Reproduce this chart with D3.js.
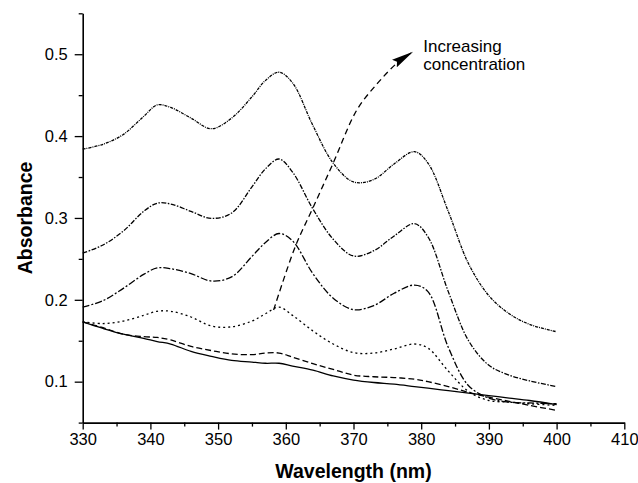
<!DOCTYPE html>
<html>
<head>
<meta charset="utf-8">
<script src="https://cdn.jsdelivr.net/npm/d3@7"></script>
<style>
  body { margin: 0; background: #fff; }
  text { font-family: "Liberation Sans", Arial, sans-serif; fill: #000; }
</style>
</head>
<body>
<svg width="638" height="483"></svg>
<script>
// wavelengths (nm) the spectra were read at
var wavelengths = [330, 333, 336, 339, 341, 343, 346, 349, 352, 355, 357, 359, 361,
                   364, 367, 370, 373, 376, 379, 381, 384, 387, 390, 393, 396, 400];

// absorbance, lowest to highest concentration
var absSolid   = [0.173, 0.165, 0.158, 0.153, 0.149, 0.146, 0.137, 0.131, 0.126, 0.124, 0.1225, 0.1225, 0.119,
                  0.114, 0.107, 0.102, 0.099, 0.097, 0.094, 0.092, 0.089, 0.086, 0.083, 0.080, 0.077, 0.072];
var absDash    = [0.173, 0.166, 0.158, 0.155, 0.154, 0.151, 0.143, 0.138, 0.134, 0.133, 0.135, 0.135, 0.130,
                  0.122, 0.115, 0.108, 0.106, 0.105, 0.103, 0.100, 0.094, 0.087, 0.081, 0.076, 0.071, 0.065];
var absDot     = [0.173, 0.171, 0.174, 0.181, 0.186, 0.186, 0.179, 0.168, 0.167, 0.174, 0.183, 0.191, 0.181,
                  0.162, 0.146, 0.1355, 0.135, 0.140, 0.146, 0.141, 0.113, 0.088, 0.077, 0.075, 0.073, 0.071];
var absDashDot = [0.191, 0.199, 0.214, 0.231, 0.239, 0.238, 0.232, 0.223, 0.228, 0.253, 0.270, 0.281, 0.272,
                  0.232, 0.202, 0.188, 0.193, 0.208, 0.218, 0.210, 0.142, 0.095, 0.080, 0.075, 0.074, 0.073];
var absDashDot2 = [0.257, 0.267, 0.284, 0.308, 0.318, 0.317, 0.308, 0.2995, 0.306, 0.338, 0.360, 0.372, 0.356,
                   0.311, 0.274, 0.2535, 0.260, 0.278, 0.293, 0.277, 0.210, 0.150, 0.120, 0.108, 0.101, 0.094];
var absShortDash = [0.384, 0.390, 0.402, 0.424, 0.438, 0.435, 0.422, 0.409, 0.422, 0.448, 0.468, 0.478, 0.465,
                    0.413, 0.367, 0.344, 0.347, 0.366, 0.381, 0.367, 0.308, 0.244, 0.205, 0.183, 0.170, 0.161];

var seriesList = [absSolid, absDash, absDot, absDashDot, absDashDot2, absShortDash];
var seriesDash = [null, "6,3", "2,3", "7,2,2,2", "5,1.5,1.5,1.5", "3,1,1,1"];

var xTicks = [330, 340, 350, 360, 370, 380, 390, 400, 410];
var xMinorTicks = [335, 345, 355, 365, 375, 385, 395, 405];
var yTicks = [0.1, 0.2, 0.3, 0.4, 0.5];
var yMinorTicks = [0.05, 0.15, 0.25, 0.35, 0.45, 0.55];

// "increasing concentration" arrow, in data units
var arrowWl  = [358.2, 361.4, 364.1, 367.0, 370.5, 373.5, 376.4, 378.8];
var arrowAbs = [0.1875, 0.265, 0.314, 0.367, 0.432, 0.464, 0.489, 0.503];
var noteLines = ["Increasing", "concentration"];

var svg = d3.select("svg");
var margin = { top: 13.3, left: 82.7 };
var width = 541.6;
var height = 409.3;
var g = svg.append("g").attr("transform", "translate(" + margin.left + "," + margin.top + ")");

var x = d3.scaleLinear().domain([330, 410]).range([0, width]);
var y = d3.scaleLinear().domain([0.05, 0.55]).range([height, 0]);

//minor ticks first, no labels
g.append("g")
    .attr("transform", "translate(0," + height + ")")
    .call(d3.axisBottom(x).tickValues(xMinorTicks).tickSize(4).tickFormat(""))
    .call(function (a) { a.select(".domain").remove(); });
g.append("g")
    .call(d3.axisLeft(y).tickValues(yMinorTicks).tickSize(4).tickFormat(""))
    .call(function (a) { a.select(".domain").remove(); });

//major axes
g.append("g")
    .attr("transform", "translate(0," + height + ")")
    .call(d3.axisBottom(x).tickValues(xTicks).tickSize(7).tickSizeOuter(0).tickPadding(4));
g.append("g")
    .call(d3.axisLeft(y).tickValues(yTicks).tickSize(8).tickSizeOuter(0).tickPadding(7).tickFormat(d3.format(".1f")));

g.selectAll(".tick line").attr("stroke", "#000").attr("stroke-width", 1.3);
g.selectAll(".domain").attr("stroke", "#000").attr("stroke-width", 1.6);
g.selectAll(".tick text")
    .attr("font-size", 16.5)
    .attr("font-family", "'Liberation Sans', Arial, sans-serif")
    .attr("fill", "#111");

//axis titles
svg.append("text")
    .attr("x", margin.left + width / 2)
    .attr("y", 478)
    .attr("text-anchor", "middle")
    .attr("font-size", 19.5)
    .attr("font-weight", "bold")
    .text("Wavelength (nm)");
svg.append("text")
    .attr("transform", "translate(32," + (margin.top + height / 2) + ") rotate(-90)")
    .attr("text-anchor", "middle")
    .attr("font-size", 19.5)
    .attr("font-weight", "bold")
    .text("Absorbance");

//spectra
var line = d3.line()
    .x(function (d, i) { return x(wavelengths[i]); })
    .y(function (d) { return y(d); })
    .curve(d3.curveCatmullRom.alpha(0.5));

seriesList.forEach(function (s, i) {
    g.append("path")
        .datum(s)
        .attr("fill", "none")
        .attr("stroke", "#000")
        .attr("stroke-width", 1.3)
        .attr("stroke-dasharray", seriesDash[i])
        .attr("d", line);
});

//arrow
svg.append("defs").append("marker")
    .attr("id", "head")
    .attr("markerUnits", "userSpaceOnUse")
    .attr("viewBox", "0 0 22 10")
    .attr("refX", 22)
    .attr("refY", 5)
    .attr("markerWidth", 22)
    .attr("markerHeight", 10)
    .attr("orient", "auto")
    .append("path")
    .attr("d", "M0,0.5 L22,5 L0,9.5 L3,5 z")
    .attr("fill", "#000");

var arrowLine = d3.line()
    .x(function (d, i) { return x(arrowWl[i]); })
    .y(function (d) { return y(d); })
    .curve(d3.curveCatmullRom);

g.append("path")
    .datum(arrowAbs)
    .attr("fill", "none")
    .attr("stroke", "#000")
    .attr("stroke-width", 1.3)
    .attr("stroke-dasharray", "6,4")
    .attr("marker-end", "url(#head)")
    .attr("d", arrowLine);

g.append("text")
    .attr("x", x(380.3))
    .attr("y", y(0.503))
    .attr("font-size", 17)
    .selectAll("tspan")
    .data(noteLines)
    .enter().append("tspan")
    .attr("x", x(380.3))
    .attr("dy", function (d, i) { return i === 0 ? 0 : 18.5; })
    .text(function (d) { return d; });
</script>
</body>
</html>
